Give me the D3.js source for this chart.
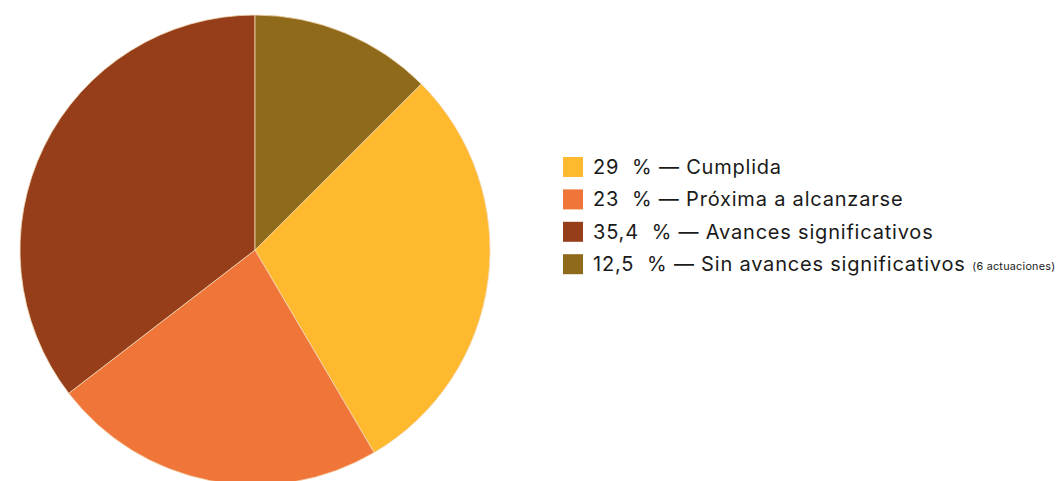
<!DOCTYPE html>
<html>
  <head>
    <title>Pie</title>
    <script src="https://d3js.org/d3.v7.min.js"></script>
    <style>
      body {
        margin: 0;
        background-color: white;
      }
      svg text {
        font-family: Inter, 'Open Sans', sans-serif;
        fill: #1a1a1a;
      }
    </style>
  </head>
  <body>
    <script>
      const labels = ['Cumplida', 'Próxima a alcanzarse', 'Avances significativos', 'Sin avances significativos'];
      const values = [29, 23, 35.4, 12.5];
      const valueText = ['29', '23', '35,4', '12,5'];
      const notes = ['', '', '', '(6 actuaciones)'];
      const colors = ['#ffb92e', '#f07538', '#963e1a', '#8f6a1a'];

      const w = 1058;
      const h = 481;
      const cx = 255;
      const cy = 250;
      const radius = 235;

      const data = labels.map((d, i) => ({label: d, value: values[i], text: valueText[i], note: notes[i], color: colors[i]}));
      const total = d3.sum(values);
      // the last slice sits at 12 o'clock, so the first one starts after it
      const offset = values[values.length - 1] / total * 2 * Math.PI;

      const pie = d3.pie()
                    .sort(null)
                    .value(d => d.value)
                    .startAngle(offset)
                    .endAngle(offset + 2 * Math.PI);

      const arc = d3.arc()
                    .innerRadius(0)
                    .outerRadius(radius);

      const svg = d3.select('body')
                    .append('svg')
                    .attr('width', w)
                    .attr('height', h);

      svg.append('g')
         .attr('transform', `translate(${cx}, ${cy})`)
         .selectAll('path')
         .data(pie(data))
         .enter()
         .append('path')
         .attr('d', arc)
         .attr('fill', d => d.data.color)
         .attr('stroke', '#f3d9b8')
         .attr('stroke-width', 0.8);

      const legend = svg.append('g')
                        .attr('transform', 'translate(563, 157)');

      const rows = legend.selectAll('g')
                         .data(data)
                         .enter()
                         .append('g')
                         .attr('transform', (d, i) => `translate(0, ${i * 32.4})`);

      rows.append('rect')
          .attr('width', 20)
          .attr('height', 20)
          .attr('fill', d => d.color);

      const txt = rows.append('text')
                      .attr('x', 30)
                      .attr('y', 17)
                      .style('font-size', '20px')
                      .style('letter-spacing', '0.8px')
                      .attr('xml:space', 'preserve');

      txt.append('tspan')
         .text(d => `${d.text}  % — ${d.label}`);

      txt.append('tspan')
         .style('font-size', '10.8px')
         .style('letter-spacing', '0.25px')
         .attr('dy', -1)
         .text(d => d.note ? '  ' + d.note : '');
    </script>
  </body>
</html>
